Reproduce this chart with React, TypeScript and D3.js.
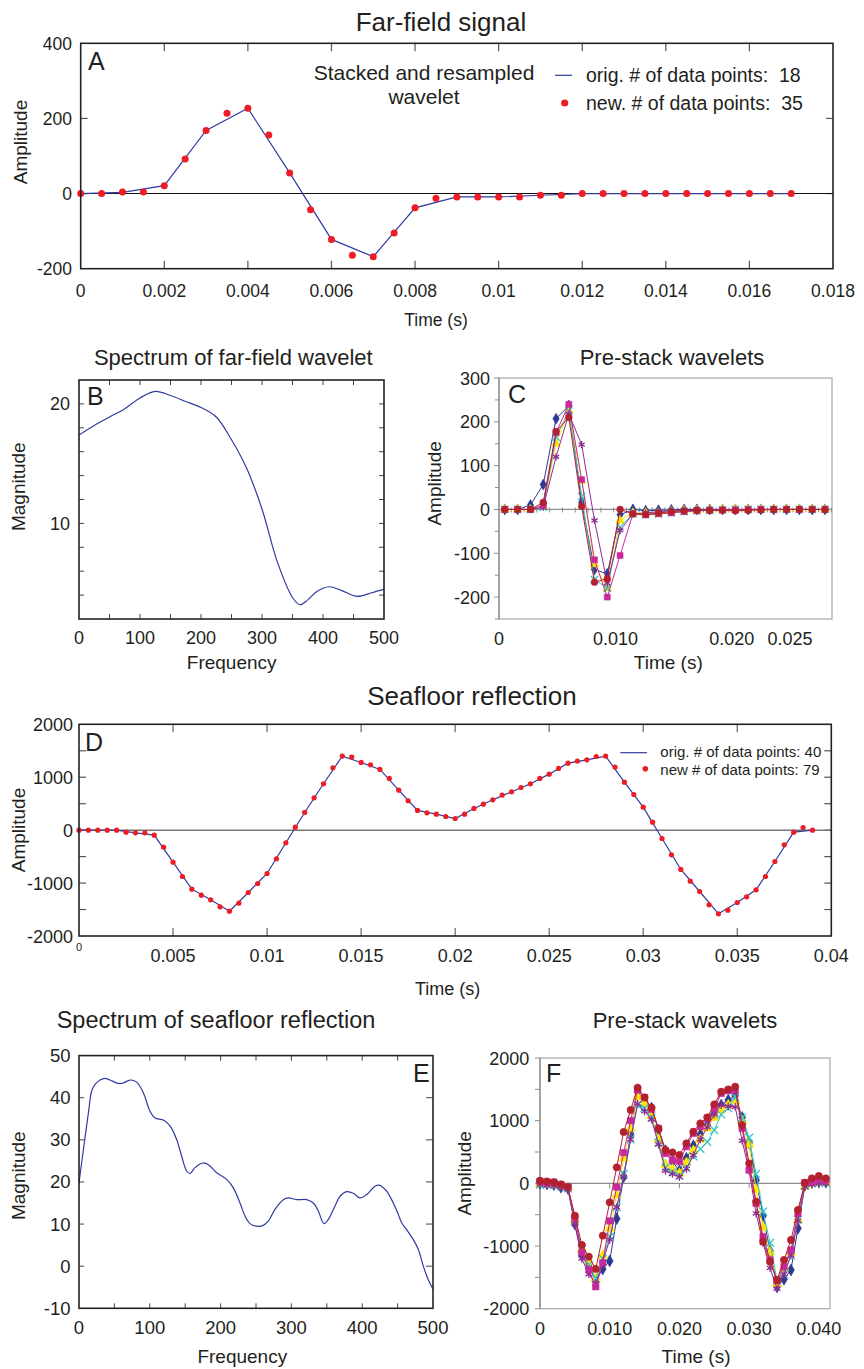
import React from 'react';
import * as d3 from 'd3';

const FONT = "'Liberation Sans', Arial, Helvetica, sans-serif";
const INK = '#231F20';
const LINE_BLUE = '#2F3C9E';
const DOT_RED = '#EE1C25';

// ---------- Panel A : far-field signal ----------
const aOrigDt = 0.001;
const aNewDt = 0.0005;
const aOrig = [0, 3, 21, 168, 227, 55, -122, -168, -38, -9, -9, -4.5, 0, 0, 0, 0, 0, 0];
const aNew = [0, 0, 4, 4, 21, 92, 168, 214, 227, 156, 55, -43, -122, -164, -168, -105, -38, -12.5, -9, -9,
  -9, -9, -4.5, -4.5, 0, 0, 0, 0, 0, 0, 0, 0, 0, 0, 0];
const aXTicks = [0, 0.002, 0.004, 0.006, 0.008, 0.01, 0.012, 0.014, 0.016, 0.018];
const aXLabels = ['0', '0.002', '0.004', '0.006', '0.008', '0.01', '0.012', '0.014', '0.016', '0.018'];
const aYTicks = [-200, 0, 200, 400];
const aYLabels = ['-200', '0', '200', '400'];

// ---------- Panel B : spectrum of far-field wavelet ----------
const bFreq = [0, 25, 50, 75, 100, 125, 150, 175, 200, 225, 250, 275, 300, 325, 350, 362, 375, 390, 410, 430, 455, 480, 500];
const bMag = [17.4, 18.2, 18.9, 19.6, 20.5, 21.05, 20.7, 20.2, 19.7, 18.9, 17.0, 14.6, 11.2, 6.8, 3.8, 3.2, 3.6, 4.3, 4.7, 4.4, 3.9, 4.2, 4.5];
const bXTicks = [0, 100, 200, 300, 400, 500];
const bYTicks = [10, 20];

// ---------- Panel C : pre-stack wavelets (far field) ----------
const cT0 = 0.0005;
const cDt = 0.0011;
const cNavy = [0, 0, 10, 57, 207, 237, 16, -137, -147, -12, 0, -3, -2, -1, 0, 0, 0, 0, 0, 0, 0, 0, 0, 0, 0, 0];
const cMagenta = [0, 0, 0, 10, 175, 240, 68, -115, -200, -105, -10, -12, -10, -8, -5, -3, -2, -1, -1, 0, 0, 0, 0, 0, 0, 0];
const cYellow = [0, 0, 0, 8, 150, 225, 65, -125, -180, -25, -8, -8, -8, -5, -3, -2, -1, 0, 0, 0, 0, 0, 0, 0, 0, 0];
const cCyan = [0, 0, 0, 5, 165, 225, 30, -160, -180, -40, -10, -12, -10, -8, -5, -3, -2, -1, 0, 0, 0, 0, 0, 0, 0, 0];
const cPurple = [0, 0, 0, 5, 120, 218, 148, -25, -168, -48, -10, -8, -5, -3, -2, -1, 0, 0, 0, 0, 0, 0, 0, 0, 0, 0];
const cRed = [0, 0, 0, 16, 178, 210, 7, -166, -158, 0, -10, -12, -8, -5, -3, -2, -2, -2, -3, -2, -1, 0, 0, 0, 0, 0];
const cXTicks = [0, 0.01, 0.02, 0.025];
const cXLabels = ['0', '0.010', '0.020', '0.025'];
const cYTicks = [-200, -100, 0, 100, 200, 300];

// ---------- Panel D : seafloor reflection ----------
const dOrigDt = 0.001;
const dNewDt = 0.0005;
const dOrig = [0, 0, 0, -50, -95, -605, -1115, -1317, -1531, -1178, -819, -239, 334, 876, 1399, 1279, 1147, 756, 372, 302,
  220, 410, 573, 725, 876, 1058, 1266, 1329, 1399, 907, 435, -158, -743, -1159, -1581, -1367, -1128, -592, -38, 0];
const dNew = [0, 0, 0, 0, 0, -38, -50, -50, -95, -321,
  -605, -876, -1115, -1229, -1317, -1449, -1531, -1380, -1178, -1008,
  -819, -542, -239, 57, 334, 611, 876, 1178, 1399, 1380,
  1279, 1235, 1147, 977, 756, 554, 372, 328, 302, 258,
  220, 302, 410, 491, 573, 662, 725, 806, 876, 977,
  1058, 1166, 1266, 1304, 1329, 1392, 1399, 1191, 907, 674,
  435, 151, -158, -466, -743, -964, -1159, -1411, -1581, -1512,
  -1367, -1260, -1128, -876, -592, -277, -38, 50, 0];
const dXTicks = [0.005, 0.01, 0.015, 0.02, 0.025, 0.03, 0.035, 0.04];
const dXLabels = ['0.005', '0.01', '0.015', '0.02', '0.025', '0.03', '0.035', '0.04'];
const dYTicks = [-2000, -1000, 0, 1000, 2000];

// ---------- Panel E : spectrum of seafloor reflection ----------
const eFreq = [0, 7.5, 13.6, 17.9, 23, 29.7, 36.7, 43.8, 55.6, 62.6, 72, 81.4, 90.8, 100.3, 107.3, 119.1, 128.5, 137.9, 145, 152,
  156.8, 163.9, 174.7, 182.7, 194.4, 208.6, 218, 227.4, 234.5, 241.5, 250.9, 260.3, 267.4, 276.8, 288.6, 295.6, 307.4, 321.5, 331, 338,
  346, 352.2, 361.6, 368.7, 378.1, 387.5, 396.9, 406.3, 418, 425, 434.5, 443.9, 451, 455.7, 462.7, 472.2, 479.2, 486.3, 493.3, 500];
const eMag = [19.8, 29.3, 36.8, 41.6, 43.2, 44.2, 44.6, 44.2, 43.4, 43.5, 44.2, 43.7, 41.2, 36.8, 35.2, 34.7, 33.3, 30.1, 26.1, 22.6,
  22.0, 23.4, 24.5, 24.1, 22.2, 20.6, 18.6, 15.0, 11.9, 10.1, 9.5, 9.7, 10.7, 13.5, 15.8, 16.2, 15.8, 15.8, 15.0, 13.1,
  10.1, 11.1, 14.3, 16.6, 17.7, 17.3, 16.2, 17.0, 19.0, 19.2, 17.8, 15.0, 12.3, 10.3, 8.7, 6.3, 4.0, 0, -3.2, -5.4];
const eXTicks = [0, 100, 200, 300, 400, 500];
const eYTicks = [-10, 0, 10, 20, 30, 40, 50];

// ---------- Panel F : pre-stack wavelets (seafloor) ----------
const fDt = 0.001;
const fNavy = [0, -10, -20, -60, -80, -650, -1150, -1300, -1560, -1366, -1239, -563, 106, 787, 1462, 1313, 1200, 850, 520, 350,
  200, 400, 600, 780, 930, 1100, 1250, 1330, 1400, 1050, 643, 50, -516, -1079, -1650, -1531, -1382, -718, -30, 20, 30, 20];
const fMagenta = [30, 20, 15, -20, -60, -560, -1100, -1380, -1650, -1270, -600, -60, 490, 1000, 1490, 1370, 1180, 877, 478, 372,
  346, 585, 797, 904, 1037, 1196, 1435, 1478, 1488, 877, 213, -319, -850, -1223, -1552, -1329, -1063, -478, 10, 20, 60, 50];
const fYellow = [-10, -15, -20, -40, -70, -580, -1050, -1250, -1520, -1150, -718, -186, 399, 877, 1382, 1270, 1080, 700, 300, 230,
  160, 330, 520, 700, 880, 1050, 1170, 1250, 1320, 1000, 620, -100, -700, -1100, -1600, -1350, -1100, -580, -50, 0, 20, 20];
const fCyan = [-20, -20, -30, -50, -80, -600, -1050, -1300, -1520, -1200, -850, -380, 150, 700, 1250, 1200, 1050, 650, 250, 180,
  120, 250, 430, 550, 660, 850, 1100, 1200, 1380, 1050, 730, 150, -450, -950, -1550, -1450, -1150, -580, -40, 0, 10, 10];
const fPurple = [-20, -30, -40, -60, -90, -650, -1200, -1450, -1600, -1250, -900, -380, 100, 700, 1270, 1150, 1020, 620, 200, 150,
  100, 230, 450, 700, 900, 1100, 1250, 1230, 1220, 680, 200, -480, -950, -1350, -1680, -1450, -1150, -600, -60, -20, 0, 0];
const fRed = [42, 32, 21, -16, -58, -516, -983, -1170, -1366, -835, -303, 255, 819, 1170, 1526, 1371, 1207, 867, 532, 494,
  452, 638, 824, 957, 1053, 1260, 1462, 1499, 1542, 930, 319, -292, -930, -1249, -1542, -1223, -904, -425, 11, 80, 117, 80];
const fXTicks = [0, 0.01, 0.02, 0.03, 0.04];
const fXLabels = ['0', '0.010', '0.020', '0.030', '0.040'];
const fYTicks = [-2000, -1000, 0, 1000, 2000];

const symX: any = (d3 as any).symbolX || d3.symbolCross;
const symAst: any = (d3 as any).symbolAsterisk || d3.symbolCross;

const seriesStyles = [
  { key: 'navy', color: '#2B3990', type: d3.symbolDiamond, stroke: false },
  { key: 'yellow', color: '#FFE500', type: d3.symbolTriangle, stroke: false },
  { key: 'cyan', color: '#33C4C8', type: symX, stroke: true },
  { key: 'purple', color: '#8E2C91', type: symAst, stroke: true },
  { key: 'magenta', color: '#C8289B', type: d3.symbolSquare, stroke: false },
  { key: 'red', color: '#B3202E', type: d3.symbolCircle, stroke: false },
];

type TxtProps = { x: number; y: number; size: number; anchor?: string; rotate?: boolean; children: React.ReactNode; weight?: string };
const Txt = ({ x, y, size, anchor = 'middle', rotate = false, children }: TxtProps) => (
  <text x={x} y={y} fontSize={size} fontFamily={FONT} textAnchor={anchor as any} fill={INK}
    dominantBaseline={rotate ? 'central' : undefined}
    transform={rotate ? `rotate(-90 ${x} ${y})` : undefined}>{children}</text>
);

function PanelA() {
  const L = 80.7, R = 833, T = 43.3, B = 268.7;
  const x = d3.scaleLinear().domain([0, 0.018]).range([L, R]);
  const y = d3.scaleLinear().domain([-200, 400]).range([B, T]);
  const line = d3.line<number>().x((_, i) => x(i * aOrigDt)).y(d => y(d));
  return (
    <g>
      <Txt x={441} y={30.5} size={26}>Far-field signal</Txt>
      {aXTicks.slice(1, -1).map(t => (
        <g key={t}>
          <line x1={x(t)} x2={x(t)} y1={T} y2={T + 8} stroke="#555" strokeWidth={1.2} />
          <line x1={x(t)} x2={x(t)} y1={B} y2={B - 8} stroke="#555" strokeWidth={1.2} />
        </g>
      ))}
      {aYTicks.slice(1, -1).map(v => (
        <g key={v}>
          <line x1={L} x2={L + 7} y1={y(v)} y2={y(v)} stroke="#555" strokeWidth={1.2} />
          <line x1={R} x2={R - 7} y1={y(v)} y2={y(v)} stroke="#555" strokeWidth={1.2} />
        </g>
      ))}
      <line x1={L} x2={R} y1={y(0)} y2={y(0)} stroke="#111" strokeWidth={1.1} />
      <path d={line(aOrig) || ''} fill="none" stroke={LINE_BLUE} strokeWidth={1.2} />
      {aNew.map((v, i) => <circle key={i} cx={x(i * aNewDt)} cy={y(v)} r={3.5} fill={DOT_RED} />)}
      <rect x={L} y={T} width={R - L} height={B - T} fill="none" stroke="#222" strokeWidth={1.6} />
      {aXTicks.map((t, i) => <Txt key={t} x={x(t)} y={296.5} size={17.5}>{aXLabels[i]}</Txt>)}
      {aYTicks.map((v, i) => <Txt key={v} x={72} y={y(v) + 6.3} size={17.5} anchor="end">{aYLabels[i]}</Txt>)}
      <Txt x={20} y={142} size={19} rotate>Amplitude</Txt>
      <Txt x={436} y={326} size={17.5}>Time (s)</Txt>
      <Txt x={88} y={70} size={25} anchor="start">A</Txt>
      <Txt x={424} y={80} size={21}>Stacked and resampled</Txt>
      <Txt x={424} y={104} size={21}>wavelet</Txt>
      <line x1={555} x2={572} y1={75.3} y2={75.3} stroke={LINE_BLUE} strokeWidth={1.2} />
      <circle cx={564.7} cy={103} r={3.6} fill={DOT_RED} />
      <text x={586} y={82} fontSize={19.5} fontFamily={FONT} fill={INK} xmlSpace="preserve">orig. # of data points:  18</text>
      <text x={586} y={109.5} fontSize={19.5} fontFamily={FONT} fill={INK} xmlSpace="preserve">new. # of data points:  35</text>
    </g>
  );
}

function PanelB() {
  const L = 79, R = 384, T = 380, B = 619;
  const x = d3.scaleLinear().domain([0, 500]).range([L, R]);
  const y = d3.scaleLinear().domain([2, 22]).range([B, T]);
  const line = d3.line<number>().x((_, i) => x(bFreq[i])).y(d => y(d)).curve(d3.curveCatmullRom);
  const minorX = d3.range(50, 500, 50);
  const minorY = d3.range(4, 22, 2);
  return (
    <g>
      <Txt x={233.3} y={365} size={22}>Spectrum of far-field wavelet</Txt>
      {minorX.map(t => (
        <g key={t}>
          <line x1={x(t)} x2={x(t)} y1={T} y2={T + 5} stroke="#444" />
          <line x1={x(t)} x2={x(t)} y1={B} y2={B - 5} stroke="#444" />
        </g>
      ))}
      {minorY.map(v => (
        <g key={v}>
          <line x1={L} x2={L + 5} y1={y(v)} y2={y(v)} stroke="#444" />
          <line x1={R} x2={R - 5} y1={y(v)} y2={y(v)} stroke="#444" />
        </g>
      ))}
      <path d={line(bMag) || ''} fill="none" stroke={LINE_BLUE} strokeWidth={1.2} />
      <rect x={L} y={T} width={R - L} height={B - T} fill="none" stroke="#222" strokeWidth={1.6} />
      {bXTicks.map(t => <Txt key={t} x={x(t)} y={643.5} size={18}>{String(t)}</Txt>)}
      {bYTicks.map(v => <Txt key={v} x={70} y={y(v) + 6.5} size={18} anchor="end">{String(v)}</Txt>)}
      <Txt x={19} y={486.7} size={19} rotate>Magnitude</Txt>
      <Txt x={231.7} y={669} size={19}>Frequency</Txt>
      <Txt x={87} y={405} size={25} anchor="start">B</Txt>
    </g>
  );
}

function Markers({ data, xs, y, style, size }: any) {
  const gen = d3.symbol().type(style.type).size(size);
  const d = gen() || '';
  return (
    <g>
      {data.map((v: number, i: number) => (
        <path key={i} d={d} transform={`translate(${xs[i]},${y(v)})`}
          fill={style.stroke ? 'none' : style.color}
          stroke={style.color} strokeWidth={style.stroke ? 1.3 : 0.5} />
      ))}
    </g>
  );
}

function MultiSeries({ seriesMap, times, x, y, size }: any) {
  const xs = times.map((t: number) => x(t));
  return (
    <g>
      {seriesStyles.map(st => {
        const data = seriesMap[st.key];
        const line = d3.line<number>().x((_, i) => xs[i]).y(d => y(d));
        return (
          <g key={st.key}>
            <path d={line(data) || ''} fill="none" stroke={st.color} strokeWidth={1} />
            <Markers data={data} xs={xs} y={y} style={st} size={size} />
          </g>
        );
      })}
    </g>
  );
}

function PanelC() {
  const L = 499, R = 832, T = 378, B = 619;
  const x = d3.scaleLinear().domain([0, 0.0286]).range([L, R]);
  const y = d3.scaleLinear().domain([-250, 300]).range([B, T]);
  const times = cNavy.map((_, i) => cT0 + i * cDt);
  const yMinor = d3.range(-250, 301, 50);
  return (
    <g>
      <Txt x={672} y={365} size={22}>Pre-stack wavelets</Txt>
      <rect x={L} y={T} width={R - L} height={B - T} fill="none" stroke="#A6A6A6" strokeWidth={1.2} />
      <line x1={L} x2={L} y1={T} y2={B} stroke="#8C8C8C" strokeWidth={1.2} />
      {yMinor.map(v => <line key={v} x1={L - (v % 100 === 0 ? 5 : 4)} x2={L} y1={y(v)} y2={y(v)} stroke="#8C8C8C" />)}
      <line x1={L} x2={R} y1={y(0)} y2={y(0)} stroke="#8C8C8C" strokeWidth={1.2} />
      {times.map((t: number, i: number) => (
        <line key={i} x1={x(t) + 6.4} x2={x(t) + 6.4} y1={y(0) - 2} y2={y(0) + 3} stroke="#8C8C8C" />
      ))}
      <MultiSeries seriesMap={{ navy: cNavy, magenta: cMagenta, yellow: cYellow, cyan: cCyan, purple: cPurple, red: cRed }}
        times={times} x={x} y={y} size={36} />
      {cXTicks.map((t, i) => <Txt key={t} x={x(t)} y={644.5} size={18}>{cXLabels[i]}</Txt>)}
      {cYTicks.map(v => <Txt key={v} x={490} y={y(v) + 6.5} size={18} anchor="end">{String(v)}</Txt>)}
      <Txt x={435} y={483.3} size={19} rotate>Amplitude</Txt>
      <Txt x={668.3} y={669} size={19}>Time (s)</Txt>
      <Txt x={508} y={403.3} size={25} anchor="start">C</Txt>
    </g>
  );
}

function PanelD() {
  const L = 79, R = 831.3, T = 724.3, B = 936;
  const x = d3.scaleLinear().domain([0, 0.04]).range([L, R]);
  const y = d3.scaleLinear().domain([-2000, 2000]).range([B, T]);
  const line = d3.line<number>().x((_, i) => x(i * dOrigDt)).y(d => y(d));
  const yMinor = d3.range(-1500, 2000, 500);
  return (
    <g>
      <Txt x={472} y={705} size={26}>Seafloor reflection</Txt>
      {dXTicks.slice(0, -1).map(t => (
        <g key={t}>
          <line x1={x(t)} x2={x(t)} y1={T} y2={T + 8} stroke="#666" strokeWidth={1.2} />
          <line x1={x(t)} x2={x(t)} y1={B} y2={B - 8} stroke="#666" strokeWidth={1.2} />
        </g>
      ))}
      {yMinor.map(v => (
        <g key={v}>
          <line x1={L} x2={L + 7} y1={y(v)} y2={y(v)} stroke="#555" strokeWidth={1.2} />
          <line x1={R} x2={R - 7} y1={y(v)} y2={y(v)} stroke="#555" strokeWidth={1.2} />
        </g>
      ))}
      <line x1={L} x2={R} y1={y(0)} y2={y(0)} stroke="#777" strokeWidth={1.5} />
      <path d={line(dOrig) || ''} fill="none" stroke={LINE_BLUE} strokeWidth={1.2} />
      {dNew.map((v, i) => <circle key={i} cx={x(i * dNewDt)} cy={y(v)} r={2.6} fill={DOT_RED} />)}
      <rect x={L} y={T} width={R - L} height={B - T} fill="none" stroke="#222" strokeWidth={1.6} />
      <Txt x={79} y={950.5} size={11}>0</Txt>
      {dXTicks.map((t, i) => <Txt key={t} x={x(t)} y={961.5} size={18}>{dXLabels[i]}</Txt>)}
      {dYTicks.map(v => <Txt key={v} x={73} y={y(v) + 6.5} size={18} anchor="end">{String(v)}</Txt>)}
      <Txt x={18.3} y={830} size={19} rotate>Amplitude</Txt>
      <Txt x={447.7} y={994.5} size={18}>Time (s)</Txt>
      <Txt x={85} y={750.7} size={25} anchor="start">D</Txt>
      <line x1={620.3} x2={647} y1={752.7} y2={752.7} stroke={LINE_BLUE} strokeWidth={1.2} />
      <circle cx={645.3} cy={768.7} r={2.8} fill={DOT_RED} />
      <Txt x={660.3} y={757} size={15} anchor="start">orig. # of data points: 40</Txt>
      <Txt x={660.3} y={774.5} size={15} anchor="start">new # of data points: 79</Txt>
    </g>
  );
}

function PanelE() {
  const L = 79, R = 433, T = 1055.6, B = 1308.3;
  const x = d3.scaleLinear().domain([0, 500]).range([L, R]);
  const y = d3.scaleLinear().domain([-10, 50]).range([B, T]);
  const line = d3.line<number>().x((_, i) => x(eFreq[i])).y(d => y(d)).curve(d3.curveCatmullRom);
  const minorX = d3.range(50, 500, 50);
  return (
    <g>
      <Txt x={216} y={1028} size={23.5}>Spectrum of seafloor reflection</Txt>
      {minorX.map(t => (
        <g key={t}>
          <line x1={x(t)} x2={x(t)} y1={B} y2={B - 5} stroke="#444" />
          <line x1={x(t)} x2={x(t)} y1={T} y2={T + 5} stroke="#444" />
        </g>
      ))}
      {eYTicks.slice(1, -1).map(v => (
        <g key={v}>
          <line x1={R} x2={R - 7} y1={y(v)} y2={y(v)} stroke="#444" />
          <line x1={L} x2={L + 5} y1={y(v)} y2={y(v)} stroke="#444" />
        </g>
      ))}
      <path d={line(eMag) || ''} fill="none" stroke={LINE_BLUE} strokeWidth={1.2} />
      <rect x={L} y={T} width={R - L} height={B - T} fill="none" stroke="#222" strokeWidth={1.6} />
      {eXTicks.map(t => <Txt key={t} x={x(t)} y={1334} size={18.5}>{String(t)}</Txt>)}
      {eYTicks.map(v => <Txt key={v} x={70.5} y={y(v) + 6.5} size={18.5} anchor="end">{String(v)}</Txt>)}
      <Txt x={19} y={1175.7} size={19} rotate>Magnitude</Txt>
      <Txt x={242.3} y={1363} size={19}>Frequency</Txt>
      <Txt x={413} y={1081.7} size={25} anchor="start">E</Txt>
    </g>
  );
}

function PanelF() {
  const L = 540, R = 830, T = 1058, B = 1308.7;
  const x = d3.scaleLinear().domain([0, 0.0416]).range([L, R]);
  const y = d3.scaleLinear().domain([-2000, 2000]).range([B, T]);
  const times = fRed.map((_, i) => i * fDt);
  const yMinor = d3.range(-2000, 2001, 500);
  return (
    <g>
      <Txt x={685} y={1028} size={22}>Pre-stack wavelets</Txt>
      <rect x={L} y={T} width={R - L} height={B - T} fill="none" stroke="#A6A6A6" strokeWidth={1.2} />
      <line x1={L} x2={L} y1={T} y2={B} stroke="#8C8C8C" strokeWidth={1.2} />
      {yMinor.map(v => <line key={v} x1={L - 5} x2={L} y1={y(v)} y2={y(v)} stroke="#8C8C8C" />)}
      <line x1={L} x2={R} y1={y(0)} y2={y(0)} stroke="#8C8C8C" strokeWidth={1.2} />
      {fXTicks.map(t => (
        <line key={t} x1={x(t)} x2={x(t)} y1={y(0)} y2={y(0) + 5} stroke="#8C8C8C" />
      ))}
      <MultiSeries seriesMap={{ navy: fNavy, magenta: fMagenta, yellow: fYellow, cyan: fCyan, purple: fPurple, red: fRed }}
        times={times} x={x} y={y} size={42} />
      {fXTicks.map((t, i) => <Txt key={t} x={x(t)} y={1335} size={18}>{fXLabels[i]}</Txt>)}
      {fYTicks.map(v => <Txt key={v} x={529.3} y={y(v) + 6.5} size={18} anchor="end">{String(v)}</Txt>)}
      <Txt x={465} y={1173.3} size={19} rotate>Amplitude</Txt>
      <Txt x={696} y={1363} size={19}>Time (s)</Txt>
      <Txt x={546} y={1081.7} size={25} anchor="start">F</Txt>
    </g>
  );
}

export default function App() {
  return (
    <svg width={864} height={1369} viewBox="0 0 864 1369"
      style={{ position: 'absolute', left: 0, top: 0, background: '#fff' }}>
      <rect x={0} y={0} width={864} height={1369} fill="#fff" />
      <PanelA />
      <PanelB />
      <PanelC />
      <PanelD />
      <PanelE />
      <PanelF />
    </svg>
  );
}
